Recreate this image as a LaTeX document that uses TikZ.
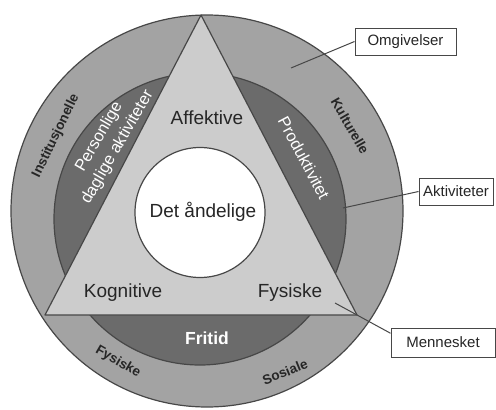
\documentclass[tikz,border=0pt]{standalone}
\usepackage{fontspec}
\setmainfont{Liberation Sans}

\definecolor{outergray}{gray}{0.64}
\definecolor{actgray}{gray}{0.42}
\definecolor{trigray}{gray}{0.80}
\definecolor{linegray}{gray}{0.28}
\definecolor{textgray}{gray}{0.15}

\tikzset{
  ring/.style={draw=linegray, line width=1.2, line join=round},
  lbl/.style={text=textgray, font=\fontsize{19}{22}\selectfont},
  ringlbl/.style={text=textgray, font=\bfseries\fontsize{13.5}{15}\selectfont},
  actlbl/.style={text=white, align=center, font=\fontsize{16.5}{21}\selectfont},
  tag/.style={draw=linegray, fill=white, line width=1, text=textgray, font=\fontsize{15}{17}\selectfont},
  pointer/.style={draw=linegray, line width=1}
}

\begin{document}
\begin{tikzpicture}[x=1pt, y=-1pt]
    \useasboundingbox (0, 0) rectangle (496, 410);

    % 円と三角形
    \filldraw[ring, fill=outergray] (207, 211) circle [radius=196pt];
    \filldraw[ring, fill=actgray] (200, 219) circle [radius=146pt];
    \filldraw[ring, fill=trigray] (201, 15) -- (45, 315) -- (357, 315) -- cycle;
    \filldraw[ring, fill=white] (200, 212.5) circle [radius=65pt];

    % 値を入れる
    \node[lbl] (affektive) at (207, 118) {Affektive};
    \node[lbl] (andelige) at (203, 212) {Det åndelige};
    \node[lbl] (kognitive) at (123, 293) {Kognitive};
    \node[lbl] (fysiske) at (290, 293) {Fysiske};

    \node[actlbl, rotate=60] (personlige) at (108.5, 142) {Personlige\\daglige aktiviteter};
    \node[actlbl, rotate=-62] (produktivitet) at (304, 158) {Produktivitet};
    \node[actlbl, font=\bfseries\fontsize{17.5}{20}\selectfont] (fritid) at (207, 338) {Fritid};

    \node[ringlbl, rotate=64] (institusjonelle) at (56, 136) {Institusjonelle};
    \node[ringlbl, rotate=-60] (kulturelle) at (350, 126) {Kulturelle};
    \node[ringlbl, rotate=-30] (fysiskeomg) at (118, 362) {Fysiske};
    \node[ringlbl, rotate=22] (sosiale) at (285, 372) {Sosiale};

    % 説明の枠
    \node[tag, minimum width=101, minimum height=27] (omgivelser) at (405.5, 41.5) {Omgivelser};
    \node[tag, minimum width=74, minimum height=27] (aktiviteter) at (456, 191.5) {Aktiviteter};
    \node[tag, minimum width=104, minimum height=29] (mennesket) at (443, 342.5) {Mennesket};

    % 線を引く
    \coordinate (omgpt) at (291, 68);
    \coordinate (aktpt) at (343, 208);
    \coordinate (menpt) at (335, 303);
    \draw[pointer] (omgpt) -- (omgivelser.west);
    \draw[pointer] (aktpt) -- (aktiviteter.west);
    \draw[pointer] (menpt) -- (mennesket.170);

\end{tikzpicture}
\end{document}
